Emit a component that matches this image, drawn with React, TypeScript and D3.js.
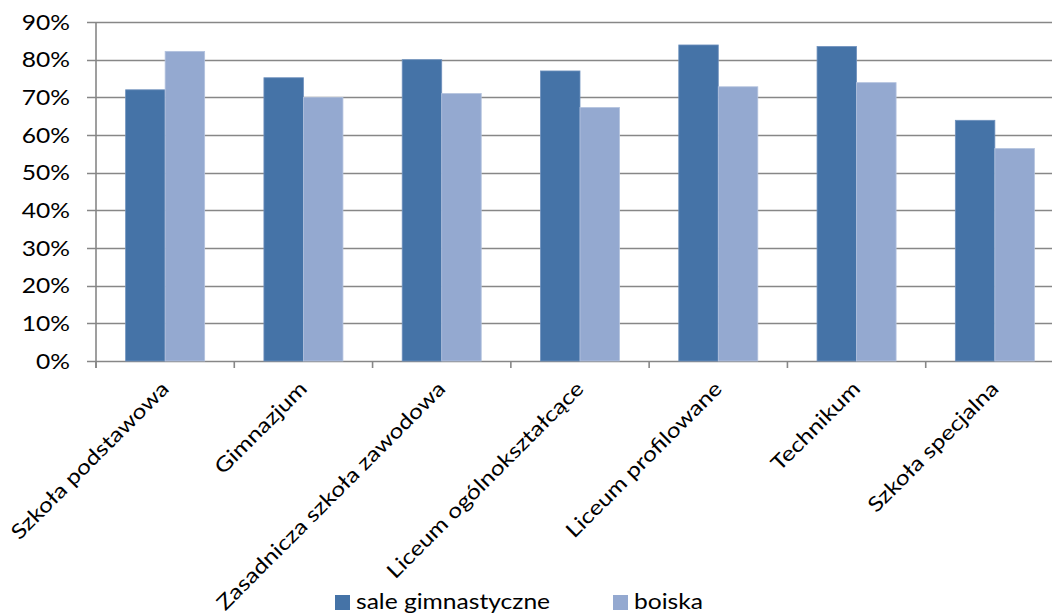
import React from "react";
import * as d3 from "d3";

const categories = [
  "Szkoła podstawowa",
  "Gimnazjum",
  "Zasadnicza szkoła zawodowa",
  "Liceum ogólnokształcące",
  "Liceum profilowane",
  "Technikum",
  "Szkoła specjalna",
];
const seriesNames = ["sale gimnastyczne", "boiska"];
const saleGimnastyczne = [72.0, 75.2, 80.0, 77.0, 83.9, 83.5, 63.9];
const boiska = [82.2, 70.0, 71.0, 67.3, 72.8, 73.9, 56.4];
const yTicks = [0, 10, 20, 30, 40, 50, 60, 70, 80, 90];
const colors = ["#4573A7", "#94A9D0"];

const W = 1052;
const H = 614;
const FONT = "Lato, 'Open Sans', sans-serif";
const FS = 20.5;
const SX = 1.2;

export default function App() {
  const left = 96;
  const right = 1064;
  const top = 22;
  const bottom = 361;
  const y = d3.scaleLinear().domain([0, 90]).range([bottom, top]);
  const x0 = d3.scaleBand<string>().domain(categories).range([left, right]).padding(0);
  const x1 = d3
    .scaleBand<string>()
    .domain(seriesNames)
    .range([0, x0.bandwidth()])
    .paddingInner(0)
    .paddingOuter(0.75);
  const series = [saleGimnastyczne, boiska];
  const gridColor = "#878787";

  return (
    <svg
      width={W}
      height={H}
      style={{ position: "absolute", left: 0, top: 0, background: "#fff" }}
      fontFamily={FONT}
    >
      {/* gridlines */}
      {yTicks.map((t) => (
        <line
          key={"g" + t}
          x1={87}
          x2={right}
          y1={Math.round(y(t)) + 0.5}
          y2={Math.round(y(t)) + 0.5}
          stroke={gridColor}
          strokeWidth={1.6}
        />
      ))}
      {/* y labels */}
      {yTicks.map((t) => (
        <text
          key={"yl" + t}
          transform={`translate(70,${y(t) + 7.5}) scale(${SX},1)`}
          textAnchor="end"
          fontSize={FS}
          fill="#000"
        >
          {t + "%"}
        </text>
      ))}
      {/* bars */}
      {categories.map((c, i) => (
        <g key={c} transform={`translate(${x0(c)},0)`}>
          {series.map((s, j) => (
            <rect
              key={j}
              x={x1(seriesNames[j])}
              y={y(s[i])}
              width={x1.bandwidth()}
              height={bottom - y(s[i])}
              fill={colors[j]}
              stroke={j === 0 ? "#6f91bd" : "#b3c2de"}
              strokeWidth={0.8}
            />
          ))}
        </g>
      ))}
      {/* y axis line */}
      <line x1={left} x2={left} y1={top} y2={bottom + 7} stroke={gridColor} strokeWidth={1.6} />
      {/* x axis ticks */}
      {d3.range(categories.length + 1).map((k) => {
        const xx = left + k * x0.step();
        return (
          <line
            key={"xt" + k}
            x1={xx}
            x2={xx}
            y1={bottom}
            y2={bottom + 7}
            stroke={gridColor}
            strokeWidth={1.6}
          />
        );
      })}
      {/* x labels */}
      {categories.map((c) => {
        const cx = (x0(c) as number) + x0.bandwidth() / 2;
        return (
          <text
            key={"xl" + c}
            transform={`translate(${cx + 5},${390}) rotate(-45) scale(${SX},1)`}
            textAnchor="end"
            fontSize={FS}
            fill="#000"
          >
            {c}
          </text>
        );
      })}
      {/* legend */}
      {seriesNames.map((s, j) => {
        const lx = j === 0 ? 335 : 613;
        return (
          <g key={"lg" + s}>
            <rect x={lx} y={595} width={15} height={15} fill={colors[j]} />
            <text
              transform={`translate(${lx + 21},609) scale(${SX},1)`}
              fontSize={FS}
              fill="#000"
            >
              {s}
            </text>
          </g>
        );
      })}
    </svg>
  );
}
